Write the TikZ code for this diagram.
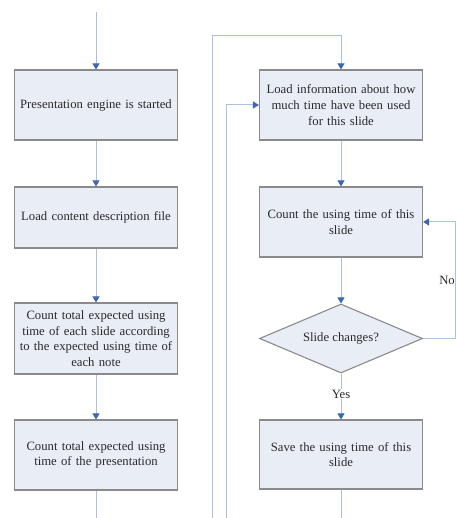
\documentclass[tikz,border=0pt]{standalone}
\usepackage{fontspec}
\setmainfont{Liberation Serif}
\usepackage{tikz}
\usetikzlibrary{arrows.meta,shapes.geometric}
\definecolor{fcfill}{HTML}{E9EDF6}
\definecolor{fcedge}{HTML}{8A8A8A}
\definecolor{fcline}{HTML}{A8C0E2}
\definecolor{fctip}{HTML}{3D66B0}
\definecolor{fctext}{HTML}{2A2A2A}
\tikzset{
  fcbox/.style={draw=fcedge, fill=fcfill, line width=1.1pt, minimum width=163pt, text width=160pt, align=center, inner sep=1pt, text=fctext, font=\fontsize{12.7}{15.6}\selectfont},
  fcdiamond/.style={diamond, draw=fcedge, fill=fcfill, line width=1.1pt, minimum width=163pt, minimum height=69pt, inner sep=0pt, aspect=2.36, text=fctext, font=\fontsize{12.7}{15.6}\selectfont},
  fcflow/.style={draw=fcline, line width=1pt, -{Triangle[width=7pt,length=6pt,fill=fctip,color=fctip]}},
  fcplain/.style={draw=fcline, line width=1pt},
  fclabel/.style={text=fctext, font=\fontsize{12.7}{15.6}\selectfont, inner sep=1pt},
}

\begin{document}
\begin{tikzpicture}[x=1pt,y=-1pt]
\clip (0,0) rectangle (456,518);
\fill[white] (0,0) rectangle (456,518);
% left column
\node[fcbox, minimum height=70pt] (start) at (96,105) {Presentation engine is started};
\node[fcbox, minimum height=61pt] (loadfile) at (96,217.5) {Load content description file};
\node[fcbox, minimum height=71pt] (slidetime) at (96,338.5) {Count total expected using\\ time of each slide according\\ to the expected using time of\\ each note};
\node[fcbox, minimum height=70pt] (prestime) at (96,455) {Count total expected using\\ time of the presentation};
% right column
\node[fcbox, minimum height=70pt] (loadinfo) at (341,105) {Load information about how\\ much time have been used\\ for this slide};
\node[fcbox, minimum height=70pt] (countuse) at (341,222) {Count the using time of this\\ slide};
\node[fcdiamond] (changes) at (341,338.5) {Slide changes?};
\node[fcbox, minimum height=69pt] (saveuse) at (341,454.5) {Save the using time of this\\ slide};
% free ends
\coordinate (topin) at (96,12);
\coordinate (leftout) at (96,518);
\coordinate (rightout) at (341,518);
\coordinate (outerloop) at (212.5,518);
\coordinate (innerloop) at (226,518);
% connectors
\draw[fcflow] (topin) -- (start);
\draw[fcflow] (start) -- (loadfile);
\draw[fcflow] (loadfile) -- (slidetime);
\draw[fcflow] (slidetime) -- (prestime);
\draw[fcplain] (prestime) -- (leftout);
\draw[fcflow] (outerloop) -- (212.5,36) -- (341,36) -- (loadinfo);
\draw[fcflow] (innerloop) -- (226,105) -- (loadinfo);
\draw[fcflow] (loadinfo) -- (countuse);
\draw[fcflow] (countuse) -- (changes);
\draw[fcflow] (changes) -- node[fclabel, fill=white, pos=0.45] {Yes} (saveuse);
\draw[fcflow] (changes.east) -- (455,338.5) -- (455,222) -- (countuse.east);
\node[fclabel, anchor=east] (nolabel) at (456,280) {No};
\draw[fcplain] (saveuse) -- (rightout);
\end{tikzpicture}
\end{document}
